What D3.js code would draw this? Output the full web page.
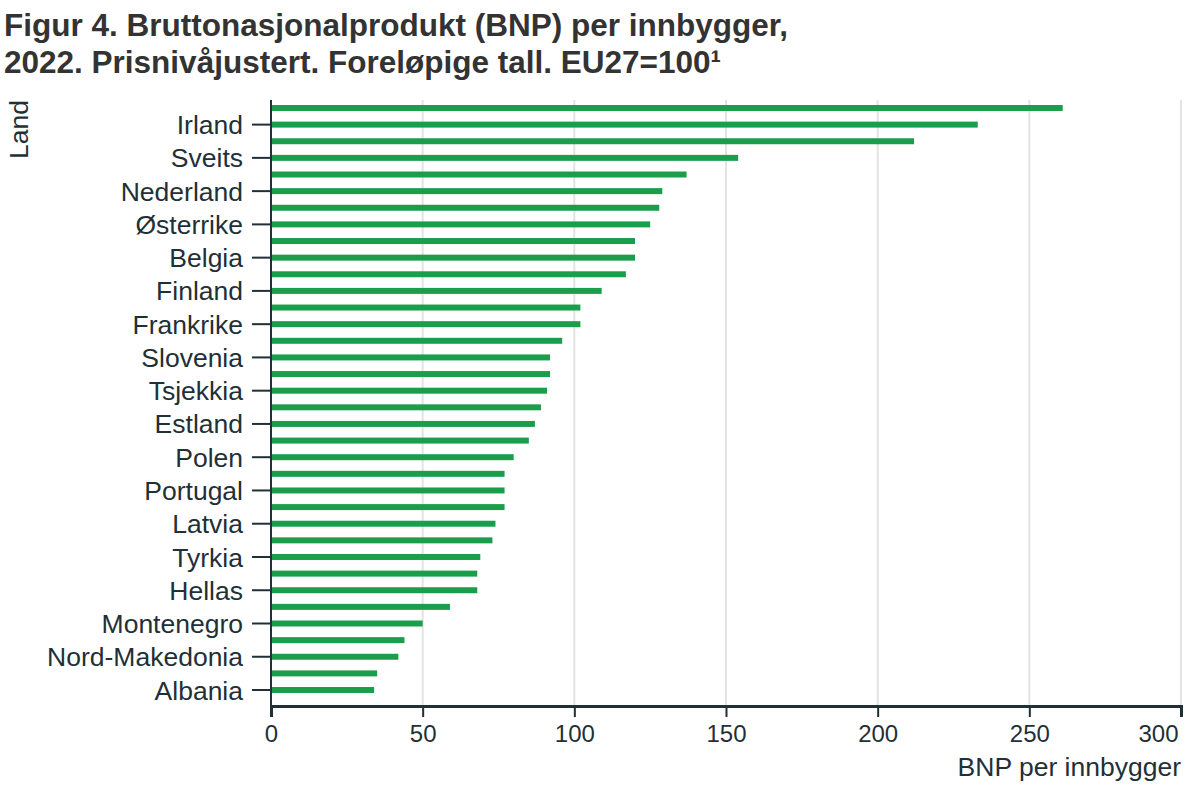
<!DOCTYPE html>
<html><head><meta charset="utf-8">
<script src="https://cdn.jsdelivr.net/npm/d3@7/dist/d3.min.js"></script>
<style>body{margin:0;background:#fff}svg{display:block}text{font-family:"Liberation Sans",Arial,sans-serif}</style>
</head><body><svg id="c" width="1200" height="800"></svg>
<script>
const countries = ["Luxembourg","Irland","Norge","Sveits","Island","Nederland","Danmark","Østerrike","Sverige","Belgia","Tyskland","Finland","Malta","Frankrike","Italia","Slovenia","Kypros","Tsjekkia","Litauen","Estland","Spania","Polen","Ungarn","Portugal","Romania","Latvia","Kroatia","Tyrkia","Slovakia","Hellas","Bulgaria","Montenegro","Serbia","Nord-Makedonia","Bosnia-Hercegovina","Albania"];
const values = [261,233,212,154,137,129,128,125,120,120,117,109,102,102,96,92,92,91,89,87,85,80,77,77,77,74,73,69,68,68,59,50,44,42,35,34];
const xTicks = [0,50,100,150,200,250,300];
const title = ["Figur 4. Bruttonasjonalprodukt (BNP) per innbygger,","2022. Prisnivåjustert. Foreløpige tall. EU27=100¹"];

const svg = d3.select("#c");
const ink = "#1f3036";
const mLeft = 271, mRight = 1181, mTop = 100, axisY = 706;
const x = d3.scaleLinear().domain([0,300]).range([mLeft,mRight]);
const y = d3.scaleBand().domain(countries).range([100,698]).paddingInner(0.64).paddingOuter(0.3);

svg.selectAll("text.title").data(title).join("text").attr("class","title")
  .attr("x",4).attr("y",(d,i)=>36+i*37).attr("font-size",31.5).attr("font-weight","bold").attr("fill","#333").text(d=>d);

// gridlines
svg.append("g").selectAll("line").data(xTicks.filter(d=>d>0)).join("line")
  .attr("x1",d=>x(d)).attr("x2",d=>x(d)).attr("y1",mTop).attr("y2",axisY)
  .attr("stroke","#e3e3e3").attr("stroke-width",2);

// bars
svg.append("g").selectAll("rect").data(countries).join("rect")
  .attr("x",x(0)).attr("y",d=>y(d)).attr("height",y.bandwidth())
  .attr("width",(d,i)=>x(values[i])-x(0)).attr("fill","#1b9e4b");

// x axis
const xa = svg.append("g").attr("transform",`translate(0,${axisY})`)
  .call(d3.axisBottom(x).tickValues(xTicks).tickSize(11).tickPadding(8));
xa.select(".domain").attr("stroke",ink).attr("stroke-width",3);
xa.selectAll(".tick line").attr("stroke",ink).attr("stroke-width",2);
xa.selectAll(".tick text").attr("font-size",24).attr("fill",ink).attr("font-family","Liberation Sans, Arial, sans-serif");
xa.selectAll(".tick text").filter(d=>d===300).attr("text-anchor","end").attr("dx",-3);

// y axis
const labelled = countries.filter((d,i)=>i%2===1);
const ya = svg.append("g").attr("transform",`translate(${mLeft},0)`)
  .call(d3.axisLeft(y).tickValues(labelled).tickSize(19).tickPadding(9));
ya.select(".domain").remove();
svg.append("line").attr("x1",mLeft).attr("x2",mLeft).attr("y1",mTop).attr("y2",axisY).attr("stroke",ink).attr("stroke-width",2);
ya.selectAll(".tick line").attr("stroke",ink).attr("stroke-width",2);
ya.selectAll(".tick text").attr("font-size",26.5).attr("fill",ink).attr("font-family","Liberation Sans, Arial, sans-serif").attr("dy","0.36em");

svg.append("text").attr("x",mRight).attr("y",776).attr("text-anchor","end").attr("font-size",26.5).attr("fill",ink).text("BNP per innbygger");
svg.append("text").attr("transform","translate(28,100) rotate(-90)").attr("text-anchor","end").attr("font-size",26.5).attr("fill",ink).text("Land");
</script></body></html>
